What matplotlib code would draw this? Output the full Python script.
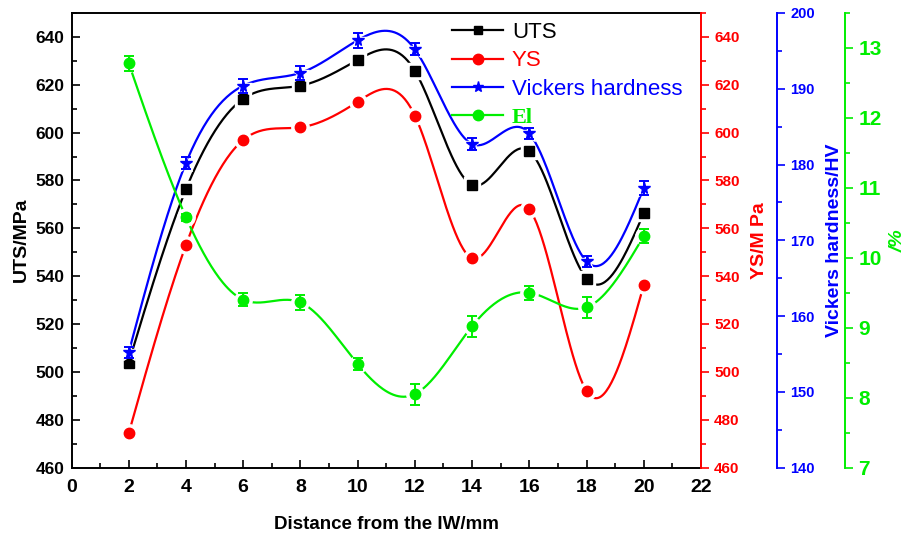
import numpy as np
import matplotlib
matplotlib.use("Agg")
import matplotlib.pyplot as plt
from matplotlib.ticker import MultipleLocator
from matplotlib.lines import Line2D

plt.rcParams['font.family'] = ['Liberation Sans', 'DejaVu Sans']

# data
dist = [2, 4, 6, 8, 10, 12, 14, 16, 18, 20]
uts = [503.8, 576.3, 614.1, 619.6, 630.4, 625.8, 578.1, 592.3, 539.0, 566.3]
ys = [474.3, 553.0, 596.9, 602.2, 612.9, 607.1, 547.5, 567.9, 492.0, 536.3]
hv = [155.2, 180.2, 190.4, 192.1, 196.4, 195.2, 182.7, 184.1, 167.2, 176.9]
hv_err = [0.7, 0.8, 0.9, 0.9, 1.0, 0.8, 0.8, 0.7, 0.7, 0.9]
el = [12.78, 10.58, 9.40, 9.36, 8.48, 8.05, 9.02, 9.50, 9.29, 10.31]
el_err = [0.11, 0.05, 0.09, 0.11, 0.09, 0.15, 0.15, 0.10, 0.15, 0.10]

BLUE = '#0000ff'
RED = '#ff0000'
GREEN = '#00ee00'


def spline(x, y, n=400):
    # natural cubic spline for the smooth connecting line (Origin "spline")
    x = np.asarray(x, float)
    y = np.asarray(y, float)
    h = np.diff(x)
    m = len(x)
    A = np.zeros((m, m))
    b = np.zeros(m)
    A[0, 0] = A[-1, -1] = 1
    for i in range(1, m - 1):
        A[i, i - 1] = h[i - 1]
        A[i, i] = 2 * (h[i - 1] + h[i])
        A[i, i + 1] = h[i]
        b[i] = 6 * ((y[i + 1] - y[i]) / h[i] - (y[i] - y[i - 1]) / h[i - 1])
    M = np.linalg.solve(A, b)
    xs = np.linspace(x[0], x[-1], n)
    idx = np.clip(np.searchsorted(x, xs) - 1, 0, m - 2)
    x0, x1 = x[idx], x[idx + 1]
    hh = x1 - x0
    t0 = x1 - xs
    t1 = xs - x0
    ys_ = (M[idx] * t0 ** 3 + M[idx + 1] * t1 ** 3) / (6 * hh) \
        + (y[idx] / hh - M[idx] * hh / 6) * t0 + (y[idx + 1] / hh - M[idx + 1] * hh / 6) * t1
    return xs, ys_


def draw(ax, y, color, marker, ms, err=None):
    sx, sy = spline(dist, y)
    ax.plot(sx, sy, color=color, lw=1.6, zorder=2)
    # white halo gives the small gap between line and symbol
    ax.plot(dist, y, ls='none', marker=marker, ms=ms + 5, color='white', zorder=3)
    if err is not None:
        ax.errorbar(dist, y, yerr=err, fmt='none', ecolor=color, elinewidth=1.4,
                    capsize=3.6, capthick=1.4, zorder=4)
    ax.plot(dist, y, ls='none', marker=marker, ms=ms, color=color, zorder=5)


fig = plt.figure(figsize=(9.09, 5.39), dpi=100)
ax = fig.add_axes([71.5 / 909, (539 - 467.5) / 539, 629.5 / 909, 454.5 / 539])
ax_r = ax.twinx()
ax_b = ax.twinx()
ax_g = ax.twinx()

ax_b.spines['right'].set_position(('axes', (777 - 71.5) / 629.5))
ax_g.spines['right'].set_position(('axes', (845 - 71.5) / 629.5))
for a in (ax_r, ax_b, ax_g):
    for s in ('top', 'bottom', 'left'):
        a.spines[s].set_visible(False)
ax.spines['right'].set_visible(False)

draw(ax, uts, 'black', 's', 6.5)
draw(ax_r, ys, RED, 'o', 7.5)
draw(ax_b, hv, BLUE, '*', 8.5, hv_err)
draw(ax_g, el, GREEN, 'o', 7.5, el_err)

# main axes
ax.set_xlim(0, 22)
ax.set_ylim(460, 650)
ax.xaxis.set_major_locator(MultipleLocator(2))
ax.xaxis.set_minor_locator(MultipleLocator(1))
ax.yaxis.set_major_locator(MultipleLocator(20))
ax.yaxis.set_minor_locator(MultipleLocator(10))
ax.tick_params(axis='both', which='both', direction='in', top=False, right=False, width=1.2)
ax.tick_params(which='major', length=6)
ax.tick_params(which='minor', length=3.5)
ax.tick_params(axis='x', labelsize=14, pad=8)
ax.tick_params(axis='y', labelsize=12.5, pad=5)
for lab in ax.get_xticklabels() + ax.get_yticklabels():
    lab.set_fontweight('bold')
for s in ('left', 'bottom', 'top'):
    ax.spines[s].set_linewidth(1.4)
ax.set_xlabel('Distance from the IW/mm', fontsize=13.5, fontweight='bold', labelpad=15)
ax.set_ylabel('UTS/MPa', fontsize=14, fontweight='bold', labelpad=4)

# extra y axes
specs = [
    (ax_r, RED, (460, 650), 20, 10, 'YS/M Pa', 11, 8),
    (ax_b, BLUE, (140, 200), 10, 5, 'Vickers hardness/HV', 10.5, 8),
    (ax_g, GREEN, (7, 13.5), 1, 0.5, '/%', 15, 6),
]
for a, c, lim, maj, mnr, label, lsize, lpad in specs:
    a.set_ylim(*lim)
    a.yaxis.set_major_locator(MultipleLocator(maj))
    a.yaxis.set_minor_locator(MultipleLocator(mnr))
    a.spines['right'].set_color(c)
    a.spines['right'].set_linewidth(1.4)
    a.tick_params(axis='y', which='both', direction='out', colors=c, width=1.2,
                  labelsize=lsize)
    a.tick_params(axis='y', which='major', length=6)
    a.tick_params(axis='y', which='minor', length=3.5)
    for lab in a.get_yticklabels():
        lab.set_fontweight('bold')
    a.set_ylabel(label, color=c, fontsize=14, fontweight='bold', labelpad=lpad,
                 style='italic' if label == '/%' else 'normal')

# legend
handles = [
    Line2D([], [], color='black', lw=1.6, marker='s', ms=6),
    Line2D([], [], color=RED, lw=1.6, marker='o', ms=7.5),
    Line2D([], [], color=BLUE, lw=1.6, marker='*', ms=8),
    Line2D([], [], color=GREEN, lw=1.6, marker='o', ms=7.5),
]
names = ['UTS', 'YS', 'Vickers hardness', 'El']
leg = ax_g.legend(handles, names, loc='upper left', bbox_to_anchor=(452 / 909, 1 - 22 / 539),
                  bbox_transform=fig.transFigure, frameon=False, fontsize=16,
                  handlelength=2.3, handletextpad=0.4, labelspacing=0.33,
                  borderpad=0, borderaxespad=0)
for t, c in zip(leg.get_texts(), ['black', RED, BLUE, GREEN]):
    t.set_color(c)
leg.get_texts()[3].set_fontfamily('Liberation Serif')
leg.get_texts()[3].set_fontweight('bold')

fig.savefig('out.png', dpi=100)
